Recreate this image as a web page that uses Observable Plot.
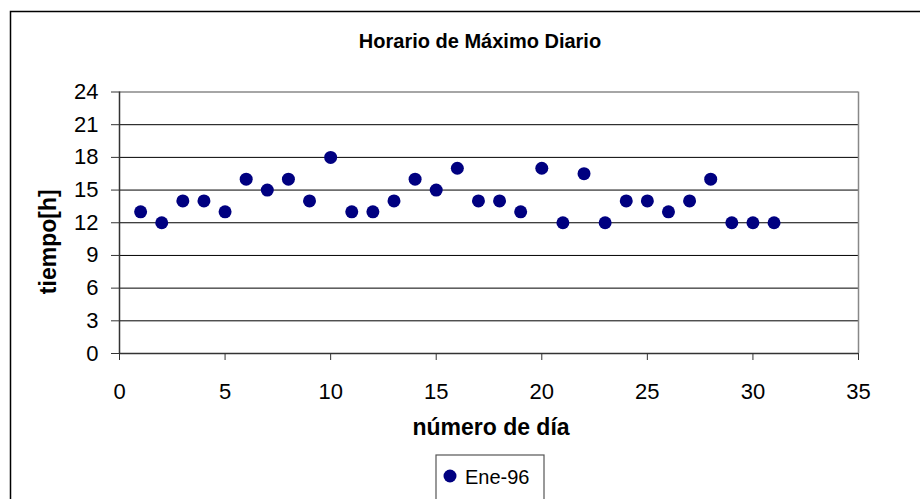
<!DOCTYPE html>
<html>
<head>
<meta charset="utf-8">
<script src="https://cdn.jsdelivr.net/npm/d3@7"></script>
<script src="https://cdn.jsdelivr.net/npm/@observablehq/plot@0.6"></script>
<style>
  html, body { margin: 0; padding: 0; background: #fff; }
  #chart { position: relative; width: 920px; height: 499px; overflow: hidden; }
  svg { font-family: Arial, "Liberation Sans", sans-serif; }
</style>
</head>
<body>
<div id="chart"></div>
<script>
const title = "Horario de Máximo Diario";
const xLabel = "número de día";
const yLabel = "tiempo[h]";
const seriesName = "Ene-96";
const days = [1,2,3,4,5,6,7,8,9,10,11,12,13,14,15,16,17,18,19,20,21,22,23,24,25,26,27,28,29,30,31];
const hours = [13,12,14,14,13,16,15,16,14,18,13,13,14,16,15,17,14,14,13,17,12,16.5,12,14,14,13,14,16,12,12,12];
const xTicks = [0,5,10,15,20,25,30,35];
const yTicks = [0,3,6,9,12,15,18,21,24];

const data = days.map((d, i) => ({day: d, hour: hours[i]}));

const font = 'Arial, "Liberation Sans", sans-serif';
const chart = Plot.plot({
  width: 920,
  height: 499,
  marginLeft: 119,
  marginRight: 62,
  marginTop: 91.5,
  marginBottom: 146,
  style: {fontFamily: font, color: "#000", background: "#fff"},
  x: {domain: [0, 35]},
  y: {domain: [0, 24]},
  marks: [
    Plot.gridY(yTicks.filter(t => t > 0 && t < 24), {stroke: "#000", strokeOpacity: 1, strokeWidth: 1}),
    Plot.ruleY([24], {stroke: "#888", strokeWidth: 1.5}),
    Plot.ruleX([35], {stroke: "#888", strokeWidth: 1.5}),
    Plot.ruleX([0], {stroke: "#333", strokeWidth: 1.5}),
    Plot.ruleY([0], {stroke: "#333", strokeWidth: 1.5}),
    Plot.axisY({ticks: yTicks, tickSize: 8, tickPadding: 13, fontSize: 22, stroke: "#333", fill: "#000", label: null, tickFormat: d => String(d)}),
    Plot.axisX({ticks: xTicks, tickSize: 7, tickPadding: 23, fontSize: 22, stroke: "#333", fill: "#000", label: null, tickFormat: d => String(d)}),
    Plot.dot(data, {x: "day", y: "hour", r: 6.5, fill: "#000080", stroke: "none"}),
    Plot.text([title], {frameAnchor: "top", lineAnchor: "middle", textAnchor: "middle", dx: -9, dy: -50.5, fontSize: 20, fontWeight: "bold", fill: "#000"}),
    Plot.text([xLabel], {frameAnchor: "bottom", lineAnchor: "middle", textAnchor: "middle", dx: 2, dy: 74, fontSize: 23, fontWeight: "bold", fill: "#000"}),
    Plot.text([yLabel], {frameAnchor: "left", lineAnchor: "middle", textAnchor: "middle", dx: -71, dy: 19, rotate: -90, fontSize: 23, fontWeight: "bold", fill: "#000"})
  ]
});

const svg = d3.select(chart);
// outer chart border
svg.append("rect")
  .attr("x", 10.5).attr("y", 11.5).attr("width", 1000).attr("height", 1000)
  .attr("fill", "none").attr("stroke", "#000").attr("stroke-width", 1.5);
// legend
const lg = svg.append("g");
lg.append("rect")
  .attr("x", 436).attr("y", 455).attr("width", 108).attr("height", 60)
  .attr("fill", "#fff").attr("stroke", "#555").attr("stroke-width", 1.2);
lg.append("circle").attr("cx", 450).attr("cy", 476).attr("r", 6.5).attr("fill", "#000080");
lg.append("text").attr("x", 465).attr("y", 483.5)
  .attr("text-anchor", "start")
  .attr("font-size", 20).attr("font-family", font).attr("fill", "#000").text(seriesName);

document.getElementById("chart").appendChild(chart);
</script>
</body>
</html>
